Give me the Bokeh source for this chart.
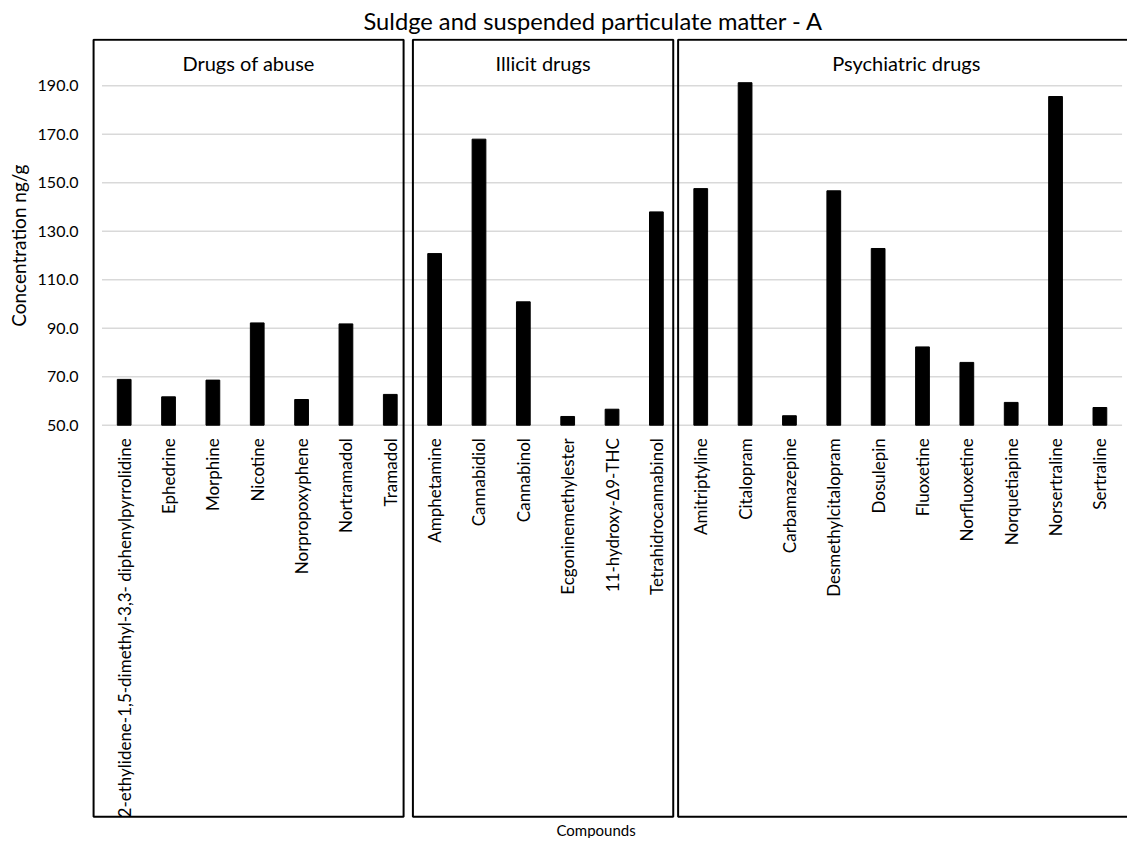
import math
from bokeh.plotting import figure
from bokeh.models import Range1d, FixedTicker, NumeralTickFormatter, Title, ColumnDataSource
from bokeh.core.properties import value
from bokeh.embed import file_html
from bokeh.resources import INLINE

TITLE = "Suldge and suspended particulate matter - A"
Y_LABEL = "Concentration ng/g"
X_LABEL = "Compounds"

groups = ["Drugs of abuse", "Illicit drugs", "Psychiatric drugs"]

drugs_of_abuse = ["2-ethylidene-1,5-dimethyl-3,3- diphenylpyrrolidine", "Ephedrine", "Morphine",
                  "Nicotine", "Norpropoxyphene", "Nortramadol", "Tramadol"]
drugs_of_abuse_values = [68.9, 61.7, 68.6, 92.2, 60.6, 91.8, 62.7]

illicit_drugs = ["Amphetamine", "Cannabidiol", "Cannabinol", "Ecgoninemethylester",
                 "11-hydroxy-\u03949-THC", "Tetrahidrocannabinol"]
illicit_drugs_values = [120.8, 168.0, 100.9, 53.6, 56.6, 138.0]

psychiatric_drugs = ["Amitriptyline", "Citalopram", "Carbamazepine", "Desmethylcitalopram",
                     "Dosulepin", "Fluoxetine", "Norfluoxetine", "Norquetiapine",
                     "Norsertraline", "Sertraline"]
psychiatric_drugs_values = [147.6, 191.3, 53.9, 146.7, 122.9, 82.3, 75.9, 59.4, 185.6, 57.3]

y_ticks = [50, 70, 90, 110, 130, 150, 170, 190]

# ---------------- layout / style ----------------
FONT = "Lato"
Y_BASE = 50
Y_TOP = 209.53
Y_BOTTOM = -112.25
BOX_TOP = 209.0
BOX_BOTTOM = -111.55
GROUP_LABEL_Y = 199.5
BOX_LEFT_PAD = [0.69, 0.49, 0.51]
BOX_RIGHT_PAD = [0.30, 0.38, 0.78]

members = [drugs_of_abuse, illicit_drugs, psychiatric_drugs]
vals = [drugs_of_abuse_values, illicit_drugs_values, psychiatric_drugs_values]
names, heights = [], []
for m, v in zip(members, vals):
    names += m
    heights += v
n = len(names)
xs = list(range(n))

p = figure(frame_width=1039, frame_height=780, output_backend="svg", toolbar_location=None,
           x_range=Range1d(-0.782, 22.645), y_range=Range1d(Y_BOTTOM, Y_TOP),
           min_border_left=80, min_border_right=0, min_border_top=0, min_border_bottom=0)
p.outline_line_color = None
p.xgrid.visible = False
p.ygrid.visible = False
p.xaxis.visible = False

# title
p.title.text = TITLE
p.title.text_font = FONT
p.title.text_font_size = "23.7px"
p.title.text_font_style = "normal"
p.title.text_color = "black"
p.title.align = "left"
p.title.offset = 274
p.title.standoff = 8

p.add_layout(Title(text=X_LABEL, align="left", offset=467, text_font=FONT,
                   text_font_size="15px", text_font_style="normal", text_color="black",
                   standoff=0), "below")

# y axis
yax = p.yaxis[0]
yax.ticker = FixedTicker(ticks=y_ticks)
yax.formatter = NumeralTickFormatter(format="0.0")
yax.axis_line_color = None
yax.major_tick_line_color = None
yax.minor_tick_line_color = None
yax.major_label_standoff = 5
yax.major_label_text_font = FONT
yax.major_label_text_font_size = "16px"
yax.major_label_text_color = "black"

# y-axis title, placed along the value range rather than the whole frame
p.add_layout(Title(text=Y_LABEL, align="right", offset=126, text_font=FONT,
                   text_font_size="19px", text_font_style="normal", text_color="black",
                   standoff=9), "left")

# gridlines
p.segment(x0=[-0.5] * len(y_ticks), x1=[n - 0.5] * len(y_ticks), y0=y_ticks, y1=y_ticks,
          line_color="#d9d9d9", line_width=1.5)

# bars
src = ColumnDataSource(dict(x=xs, top=heights, name=names))
p.vbar(x="x", top="top", bottom=Y_BASE, width=0.31, source=src,
       fill_color="black", line_color="black")

# category labels
p.text(x="x", y=Y_BASE, text="name", source=src, angle=math.pi / 2,
       text_align="right", text_baseline="middle", y_offset=13,
       text_font=value(FONT), text_font_size="17px", text_color="black")

# group boxes and labels
lefts, rights, centers = [], [], []
start = 0
for gi, m in enumerate(members):
    first, last = start, start + len(m) - 1
    lefts.append(first - BOX_LEFT_PAD[gi])
    rights.append(last + BOX_RIGHT_PAD[gi])
    centers.append((lefts[-1] + rights[-1]) / 2)
    start += len(m)

p.quad(left=lefts, right=rights, top=BOX_TOP, bottom=BOX_BOTTOM,
       fill_color=None, line_color="black", line_width=2)
p.text(x=centers, y=[GROUP_LABEL_Y] * len(groups), text=groups,
       text_align="center", text_baseline="middle",
       text_font=value(FONT), text_font_size="20px", text_color="black")

open("out.html", "w").write(file_html(p, INLINE))
